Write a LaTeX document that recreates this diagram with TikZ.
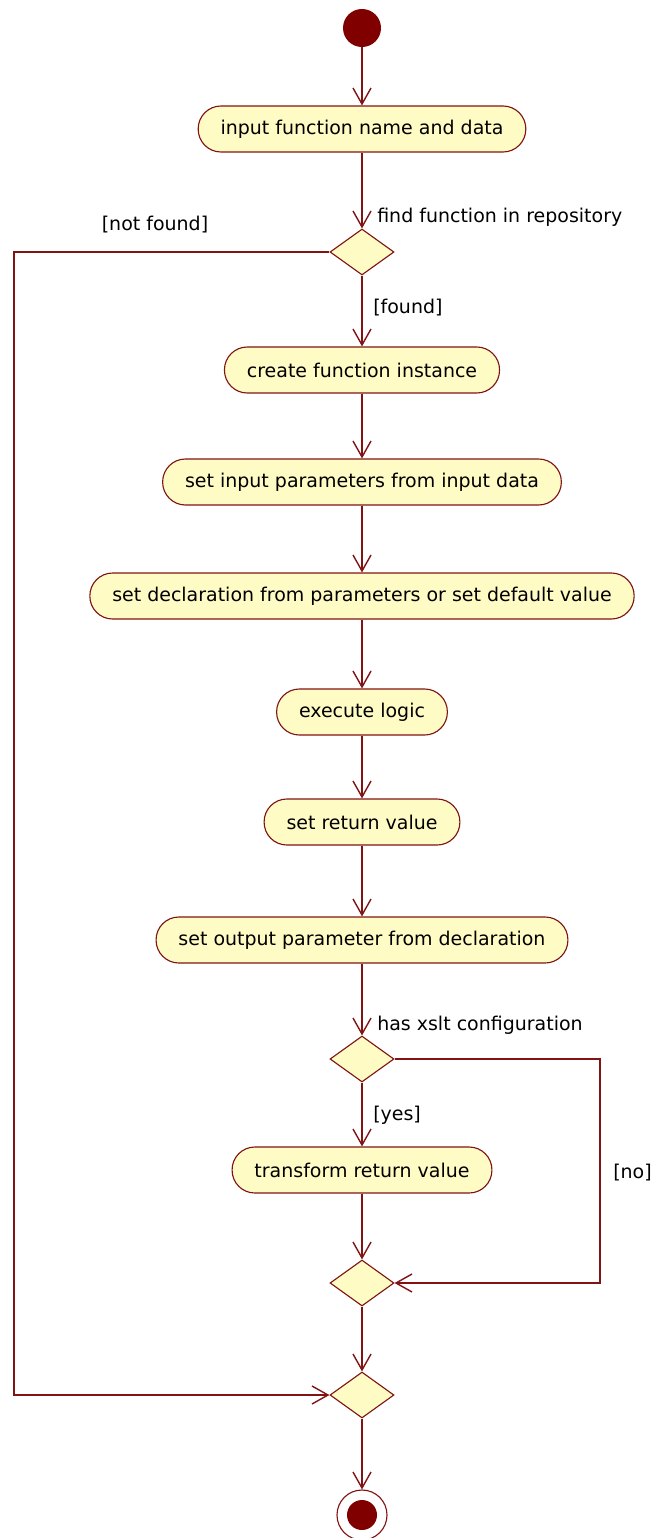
\documentclass[tikz,border=0pt]{standalone}
\usepackage{fontspec}
\setmainfont{DejaVu Sans}
\usetikzlibrary{arrows.meta,shapes.geometric}

\definecolor{umlrood}{RGB}{128,20,20}
\definecolor{umlgeel}{RGB}{255,251,196}
\definecolor{umlstart}{RGB}{128,0,0}

\tikzset{
    activiteit/.style={draw=umlrood, fill=umlgeel, line width=0.8pt, rounded corners=0.57cm,
        minimum height=1.15cm, inner xsep=0.56cm, font=\fontsize{13.5}{15}\selectfont},
    beslissing/.style={diamond, draw=umlrood, fill=umlgeel, line width=0.8pt,
        minimum width=1.6cm, minimum height=1.15cm, inner sep=0pt},
    stroom/.style={draw=umlrood, line width=1pt, -{Straight Barb[length=0.4cm,width=0.45cm]}},
    bijschrift/.style={font=\fontsize{13.5}{15}\selectfont, inner sep=0pt}
}

\begin{document}
\begin{tikzpicture}[x=0.025cm, y=-0.025cm]
    \useasboundingbox (0,0) rectangle (652,1538);

    % Begin- en eindknoop
    \node[circle, fill=umlstart, minimum size=0.95cm, inner sep=0pt] (start) at (362,28) {};
    \node[circle, draw=umlrood, line width=0.8pt, fill=white, minimum size=1.25cm, inner sep=0pt] (end) at (362,1515) {};
    \node[circle, fill=umlstart, minimum size=0.75cm, inner sep=0pt] (endkern) at (end.center) {};

    % Activiteiten
    \node[activiteit] (input)    at (362,129)  {input function name and data};
    \node[activiteit] (create)   at (362,370)  {create function instance};
    \node[activiteit] (params)   at (362,482)  {set input parameters from input data};
    \node[activiteit] (decl)     at (362,596)  {set declaration from parameters or set default value};
    \node[activiteit] (execute)  at (362,712)  {execute logic};
    \node[activiteit] (retval)   at (362,822)  {set return value};
    \node[activiteit] (output)   at (362,940)  {set output parameter from declaration};
    \node[activiteit] (transform) at (362,1170) {transform return value};

    % Beslissingen en samenvoegingen
    \node[beslissing] (found)  at (362,252)  {};
    \node[beslissing] (xslt)   at (362,1059) {};
    \node[beslissing] (mergex) at (362,1283) {};
    \node[beslissing] (mergef) at (362,1395) {};

    % Hoekpunten van de zijlijnen
    \coordinate (nfturn) at (14,252);
    \coordinate (noturn) at (600,1059);

    % Bijschriften bij de pijlen
    \node[bijschrift, anchor=west] (lblfind)  at (377,217)  {find function in repository};
    \node[bijschrift] (lblnotfound)           at (155,225)  {[not found]};
    \node[bijschrift, anchor=west] (lblfound) at (373,308)  {[found]};
    \node[bijschrift, anchor=west] (lblxslt)  at (377,1025) {has xslt configuration};
    \node[bijschrift, anchor=west] (lblyes)   at (373,1115) {[yes]};
    \node[bijschrift, anchor=west] (lblno)    at (613,1173) {[no]};

    % Rechte stroom van boven naar beneden
    \foreach \van/\naar in {start/input, input/found, found/create, create/params, params/decl,
        decl/execute, execute/retval, retval/output, output/xslt, xslt/transform,
        transform/mergex, mergex/mergef, mergef/end} {
        \draw[stroom] (\van) -- (\naar);
    }

    % Zijtakken [not found] en [no]
    \draw[stroom] (found.west) -- (nfturn) |- (mergef.west);
    \draw[stroom] (xslt.east) -- (noturn) |- (mergex.east);
\end{tikzpicture}
\end{document}
